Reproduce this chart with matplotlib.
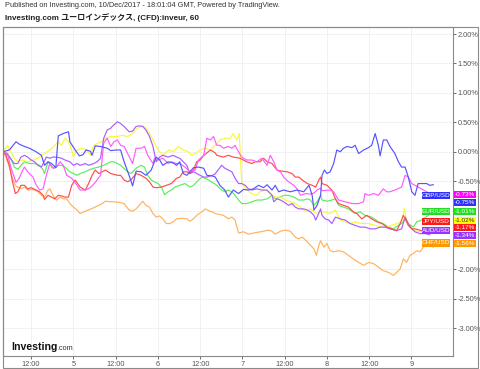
import matplotlib
matplotlib.use('Agg')
import matplotlib.pyplot as plt
from matplotlib import transforms
from matplotlib.patches import Rectangle

plt.rcParams['font.family'] = ['Liberation Sans', 'Noto Sans CJK JP', 'DejaVu Sans']

# ---------------------------------------------------------------------
# data: (hours since 4 Dec 00:00, change in %)
# ---------------------------------------------------------------------
gbp = [(4.0, 0.00), (5.8, 0.03), (7.7, 0.17), (8.6, 0.13), (10.1, 0.09), (11.5, 0.06), (13.4, 0.00),
       (14.9, -0.06), (15.8, -0.23), (16.8, -0.17), (17.8, -0.20), (19.0, -0.27), (19.7, 0.27),
       (21.1, 0.31), (22.6, 0.34), (23.0, 0.17), (24.5, 0.03), (25.7, -0.07), (26.7, -0.05),
       (27.6, 0.03), (28.8, 0.01), (29.3, -0.06), (30.2, 0.10), (31.7, 0.09), (33.6, 0.06),
       (34.6, 0.02), (36.0, 0.03), (37.4, 0.03), (38.4, -0.17), (39.8, -0.40), (40.8, -0.58),
       (41.8, -0.33), (43.2, -0.34), (44.6, -0.40), (46.1, -0.31), (47.5, -0.09), (48.5, -0.14),
       (49.4, -0.23), (50.9, -0.17), (52.3, -0.19), (53.3, -0.23), (54.2, -0.17), (55.2, -0.37),
       (56.2, -0.40), (57.1, -0.34), (58.1, -0.27), (59.5, -0.26), (61.0, -0.28), (61.9, -0.40),
       (63.4, -0.41), (64.3, -0.43), (65.6, -0.57), (67.0, -0.65), (68.0, -0.77), (69.4, -0.65),
       (70.9, -0.71), (72.3, -0.64), (73.7, -0.65), (75.1, -0.63), (76.6, -0.57), (78.0, -0.61),
       (79.0, -0.56), (80.4, -0.65), (81.3, -0.57), (82.3, -0.68), (83.7, -0.65), (85.6, -0.68),
       (87.5, -0.65), (89.4, -0.68), (90.9, -0.57), (91.8, -0.74), (92.3, -0.99), (93.2, -0.91),
       (94.2, -0.74), (94.6, -0.40), (95.3, -0.31), (96.0, -0.37), (96.9, -0.34), (97.9, -0.20),
       (98.8, 0.03), (99.8, 0.00), (100.7, 0.06), (101.7, 0.09), (103.1, 0.07), (104.0, 0.11),
       (105.0, -0.03), (106.4, 0.03), (107.8, 0.07), (108.7, 0.11), (109.7, 0.31), (110.6, 0.11),
       (111.1, -0.07), (112.0, 0.20), (113.0, 0.20), (113.9, 0.09), (115.3, -0.03), (116.3, -0.17),
       (117.2, -0.26), (118.2, -0.26), (119.1, -0.43), (120.1, -0.68), (121.0, -0.74),
       (121.9, -0.54), (122.9, -0.54), (124.3, -0.54), (125.2, -0.57), (126.2, -0.56)]

magenta = [(4.0, 0.00), (5.3, -0.03), (6.2, -0.26), (7.2, -0.43), (7.7, -0.52), (8.6, -0.45),
           (9.6, -0.31), (10.1, -0.26), (11.0, -0.34), (12.5, -0.43), (13.4, -0.56), (14.4, -0.65),
           (15.4, -0.63), (16.3, -0.40), (17.3, -0.20), (18.2, -0.28), (19.2, -0.26), (20.2, -0.17),
           (21.1, -0.23), (22.1, -0.40), (23.5, -0.45), (25.0, -0.57), (25.9, -0.65), (27.4, -0.65),
           (28.8, -0.61), (30.2, -0.52), (31.7, -0.40), (32.6, 0.15), (33.6, 0.23), (34.6, 0.09),
           (35.5, 0.17), (36.5, 0.20), (37.4, 0.11), (38.4, 0.09), (39.4, -0.03), (40.8, -0.20),
           (41.8, 0.06), (43.2, 0.06), (44.2, 0.09), (45.1, -0.06), (46.6, -0.20), (47.0, -0.11),
           (48.0, -0.14), (49.4, -0.11), (50.9, -0.20), (51.8, -0.17), (53.3, -0.20), (54.2, -0.20),
           (55.7, -0.26), (57.1, -0.34), (58.6, -0.31), (59.5, -0.14), (61.0, -0.06), (61.9, 0.23),
           (62.9, 0.20), (63.8, 0.26), (64.7, 0.11), (65.6, 0.11), (66.6, 0.06), (68.0, 0.09),
           (69.0, 0.06), (69.9, 0.11), (70.9, 0.00), (71.8, -0.09), (73.2, -0.14), (74.7, -0.14),
           (76.1, -0.17), (77.5, -0.11), (79.0, -0.23), (79.9, -0.06), (80.9, -0.17), (81.8, -0.31),
           (82.8, -0.34), (83.7, -0.43), (85.1, -0.51), (86.6, -0.57), (87.5, -0.63), (88.5, -0.74),
           (89.9, -0.71), (91.3, -0.72), (92.3, -0.70), (93.2, -0.65), (94.2, -0.62), (94.6, -0.66),
           (96.9, -0.65), (97.9, -0.68), (99.3, -0.82), (101.2, -0.85), (103.1, -0.88), (105.0, -0.88),
           (106.4, -0.85), (106.8, -0.71), (107.8, -0.74), (109.2, -0.71), (110.6, -0.74),
           (112.0, -0.63), (113.0, -0.68), (113.9, -0.68), (115.3, -0.65), (117.2, -0.60),
           (118.2, -0.40), (119.1, -0.43), (120.1, -0.54), (121.0, -0.57), (121.9, -0.60),
           (123.4, -0.65), (124.3, -0.68), (125.2, -0.70)]

jpy = [(4.0, 0.00), (4.8, -0.05), (5.8, -0.23), (6.7, -0.51), (7.5, -0.71), (8.2, -0.68), (9.1, -0.57),
       (10.1, -0.57), (11.0, -0.63), (12.0, -0.61), (13.4, -0.65), (14.4, -0.68), (15.4, -0.74),
       (15.8, -0.81), (16.8, -0.74), (17.8, -0.77), (18.7, -0.80), (19.7, -0.74), (20.6, -0.75),
       (21.6, -0.77), (22.6, -0.77), (23.5, -0.57), (24.5, -0.48), (25.9, -0.60), (27.4, -0.65),
       (28.3, -0.54), (29.3, -0.40), (30.2, -0.31), (31.2, -0.37), (32.2, -0.34), (33.1, -0.31),
       (34.6, -0.37), (36.5, -0.40), (37.4, -0.40), (38.4, -0.48), (39.4, -0.51), (40.3, -0.48),
       (41.8, -0.37), (43.2, -0.40), (44.6, -0.45), (45.6, -0.51), (46.6, -0.60), (47.5, -0.61),
       (49.0, -0.60), (50.4, -0.57), (51.8, -0.54), (53.3, -0.45), (54.2, -0.43), (55.2, -0.34),
       (56.2, -0.34), (57.1, -0.37), (58.1, -0.31), (59.0, -0.17), (60.0, -0.14), (61.0, -0.06),
       (61.9, -0.02), (62.9, 0.03), (64.3, -0.02), (64.7, -0.06), (66.6, -0.09), (68.0, -0.06),
       (69.4, -0.09), (71.3, -0.11), (72.3, -0.14), (73.2, -0.17), (74.7, -0.20), (75.6, -0.17),
       (77.0, -0.17), (78.0, -0.11), (79.0, -0.17), (80.4, -0.20), (81.8, -0.31), (83.2, -0.33),
       (84.7, -0.34), (86.1, -0.37), (87.0, -0.43), (88.0, -0.43), (89.0, -0.48), (90.4, -0.54),
       (91.8, -0.57), (92.8, -0.60), (93.7, -0.48), (94.2, -0.43), (94.6, -0.54), (96.0, -0.57),
       (97.4, -0.65), (98.4, -0.80), (99.3, -0.88), (100.7, -0.91), (102.1, -0.94), (103.5, -1.02),
       (104.5, -1.05), (105.9, -1.14), (107.3, -1.08), (108.7, -1.14), (110.2, -1.19),
       (111.6, -1.22), (113.0, -1.28), (114.4, -1.31), (115.8, -1.34), (116.8, -1.22),
       (117.7, -1.08), (119.1, -1.25), (120.1, -1.31), (121.0, -1.31), (122.9, -1.34),
       (124.3, -1.34), (125.2, -1.31)]

eur = [(4.0, 0.00), (5.3, -0.03), (6.2, -0.11), (7.2, -0.26), (8.2, -0.30), (9.1, -0.23), (10.1, -0.17),
       (11.5, -0.20), (13.0, -0.20), (14.4, -0.23), (15.4, -0.31), (15.8, -0.37), (16.8, -0.17),
       (17.8, -0.26), (18.7, -0.28), (19.7, -0.23), (20.6, -0.23), (21.6, -0.26), (23.0, -0.34),
       (24.0, -0.37), (25.0, -0.40), (25.9, -0.37), (27.4, -0.34), (28.3, -0.31), (29.8, -0.28),
       (31.2, -0.26), (32.6, -0.23), (33.6, -0.20), (34.6, -0.17), (35.5, -0.17), (37.4, -0.23),
       (39.4, -0.34), (40.3, -0.37), (41.8, -0.28), (43.2, -0.23), (44.2, -0.26), (45.1, -0.40),
       (46.1, -0.48), (47.0, -0.51), (48.0, -0.54), (49.0, -0.60), (49.9, -0.73), (50.9, -0.68),
       (51.8, -0.65), (52.8, -0.60), (54.2, -0.57), (55.7, -0.54), (57.1, -0.60), (58.1, -0.57),
       (59.5, -0.48), (60.5, -0.43), (61.4, -0.45), (62.4, -0.48), (63.4, -0.52), (64.3, -0.55),
       (64.7, -0.57), (66.1, -0.65), (67.0, -0.68), (68.0, -0.65), (69.0, -0.68), (69.9, -0.74),
       (70.9, -0.82), (71.8, -0.88), (73.2, -0.88), (74.7, -0.85), (76.1, -0.82), (77.5, -0.82),
       (79.0, -0.80), (80.4, -0.74), (81.3, -0.80), (82.8, -0.77), (83.7, -0.74), (85.1, -0.74),
       (86.6, -0.77), (88.0, -0.82), (89.4, -0.82), (90.4, -0.80), (91.3, -0.82), (92.3, -0.91),
       (93.2, -0.85), (94.2, -0.74), (94.6, -0.82), (96.0, -0.84), (97.4, -0.82), (98.4, -0.80),
       (99.3, -0.91), (100.7, -0.94), (102.1, -0.97), (104.0, -1.05), (105.4, -1.02),
       (106.8, -1.08), (108.7, -1.11), (110.6, -1.19), (112.0, -1.22), (113.5, -1.28),
       (114.9, -1.31), (116.3, -1.25), (117.2, -1.22), (118.2, -1.14), (119.1, -1.22),
       (120.5, -1.28), (121.5, -1.19), (122.9, -1.16), (124.8, -1.08), (126.2, -0.99)]

yellow = [(4.0, 0.00), (5.3, 0.11), (6.2, 0.00), (7.2, -0.11), (8.2, -0.17), (9.6, -0.14), (11.0, -0.17),
          (12.5, -0.14), (13.9, -0.11), (14.9, -0.06), (15.8, -0.03), (17.3, 0.03), (18.7, 0.11),
          (19.7, 0.17), (20.6, 0.11), (21.6, 0.23), (22.6, 0.17), (23.5, 0.03), (24.0, -0.09),
          (25.0, 0.03), (26.4, 0.06), (27.8, 0.03), (28.8, -0.06), (29.8, 0.11), (30.7, 0.14),
          (32.2, 0.18), (33.1, 0.23), (34.6, 0.26), (36.5, 0.26), (37.9, 0.28), (39.4, 0.26),
          (40.8, 0.31), (42.2, 0.40), (43.7, 0.44), (44.6, 0.40), (45.6, 0.31), (46.6, 0.20),
          (47.5, 0.09), (48.5, 0.00), (49.4, -0.06), (50.4, 0.00), (51.4, 0.03), (52.3, 0.00),
          (53.8, 0.09), (55.2, 0.03), (56.6, 0.00), (57.6, -0.06), (58.6, -0.03), (60.0, 0.03),
          (61.4, 0.06), (62.9, 0.03), (64.2, 0.11), (64.7, 0.14), (65.6, 0.20), (67.0, 0.23),
          (68.5, 0.23), (69.4, 0.31), (70.4, 0.20), (71.1, 0.31), (71.8, -0.54), (72.3, -0.57),
          (73.2, -0.65), (74.7, -0.71), (76.1, -0.74), (77.0, -0.68), (78.5, -0.65), (79.9, -0.71),
          (81.3, -0.77), (82.8, -0.77), (84.2, -0.82), (85.6, -0.85), (87.0, -0.88), (88.5, -0.94),
          (89.9, -1.02), (91.3, -0.97), (92.3, -1.02), (93.2, -1.05), (94.2, -1.02), (95.5, -1.02),
          (96.9, -1.05), (98.4, -0.99), (99.8, -1.16), (101.2, -1.19), (102.6, -1.22),
          (104.0, -1.19), (105.9, -1.22), (107.8, -1.22), (109.7, -1.25), (111.6, -1.28),
          (113.0, -1.28), (114.4, -1.25), (115.8, -1.22), (117.2, -1.19), (118.0, -0.97),
          (118.6, -1.16), (119.6, -1.28), (121.0, -1.34), (122.9, -1.36), (124.3, -1.34),
          (125.2, -1.31)]

aud = [(4.0, 0.00), (4.8, -0.03), (5.8, -0.09), (7.2, -0.20), (8.2, -0.20), (9.1, -0.09), (10.1, -0.06),
       (11.0, -0.09), (12.0, -0.14), (13.0, -0.17), (13.9, -0.23), (14.9, -0.26), (16.3, -0.09),
       (17.3, -0.11), (18.2, -0.09), (19.2, -0.09), (20.6, -0.11), (21.6, -0.14), (23.0, -0.17),
       (24.0, -0.23), (25.0, -0.20), (25.9, -0.23), (27.4, -0.20), (28.3, -0.23), (29.8, -0.20),
       (30.7, -0.17), (31.7, -0.11), (32.6, 0.23), (33.6, 0.37), (34.6, 0.40), (35.0, 0.43),
       (36.5, 0.51), (37.4, 0.48), (38.4, 0.43), (39.8, 0.34), (40.8, 0.35), (41.8, 0.43),
       (42.7, 0.44), (43.7, 0.43), (44.6, 0.37), (45.6, 0.26), (46.6, 0.09), (47.5, -0.17),
       (48.5, -0.09), (49.4, -0.06), (50.9, -0.09), (52.3, -0.06), (53.3, -0.09), (54.2, -0.11),
       (55.2, -0.17), (56.2, -0.23), (57.1, -0.37), (58.1, -0.34), (59.0, -0.37), (60.0, -0.40),
       (61.0, -0.43), (61.9, -0.43), (63.4, -0.40), (64.2, -0.38), (64.7, -0.34), (66.1, -0.23),
       (67.0, -0.28), (68.0, -0.31), (69.0, -0.34), (69.9, -0.45), (70.9, -0.54), (71.8, -0.54),
       (72.8, -0.57), (73.7, -0.63), (74.7, -0.65), (76.1, -0.63), (77.5, -0.65), (79.0, -0.65),
       (80.4, -0.74), (80.9, -0.85), (81.8, -0.80), (82.8, -0.82), (83.7, -0.85), (85.1, -0.91),
       (86.1, -0.88), (87.0, -0.94), (88.0, -0.97), (89.4, -0.97), (90.4, -0.99), (91.3, -1.02),
       (92.3, -1.08), (92.8, -1.16), (93.2, -1.11), (94.2, -0.97), (94.6, -1.08), (95.5, -1.14),
       (96.5, -1.16), (97.4, -1.22), (98.4, -1.11), (99.8, -1.14), (101.2, -1.16), (102.6, -1.22),
       (104.0, -1.25), (105.4, -1.28), (106.8, -1.28), (108.3, -1.31), (109.7, -1.31),
       (111.1, -1.28), (112.5, -1.28), (113.9, -1.31), (115.8, -1.34), (117.2, -1.31),
       (118.2, -1.11), (119.1, -1.22), (120.1, -1.31), (121.0, -1.36), (122.4, -1.39),
       (123.8, -1.39), (125.2, -1.41)]

chf = [(4.0, 0.00), (4.8, -0.09), (5.8, -0.26), (6.7, -0.45), (7.5, -0.57), (8.2, -0.60), (9.1, -0.63),
       (10.1, -0.60), (11.0, -0.65), (12.0, -0.64), (13.0, -0.65), (13.9, -0.68), (14.9, -0.74),
       (15.8, -0.77), (16.8, -0.65), (17.3, -0.63), (18.2, -0.74), (19.2, -0.82), (20.2, -0.77),
       (21.1, -0.80), (22.1, -0.80), (23.0, -0.88), (24.0, -0.94), (25.0, -0.99), (25.9, -1.05),
       (26.9, -1.02), (28.3, -0.99), (29.8, -0.95), (31.2, -0.91), (32.2, -0.88), (33.1, -0.84),
       (34.6, -0.85), (35.5, -0.85), (37.0, -0.86), (38.4, -0.88), (39.8, -0.99), (40.8, -1.01),
       (41.8, -0.97), (42.7, -0.91), (43.7, -0.84), (44.6, -0.91), (45.6, -0.94), (46.6, -1.05),
       (47.5, -1.11), (48.5, -1.09), (49.4, -1.14), (50.4, -1.22), (51.4, -1.22), (52.3, -1.19),
       (53.3, -1.14), (54.7, -1.13), (56.2, -1.14), (57.1, -1.18), (58.1, -1.14), (59.0, -1.08),
       (60.5, -1.02), (61.4, -0.97), (62.4, -1.00), (63.4, -1.02), (64.3, -1.05), (66.6, -1.08),
       (68.0, -1.14), (69.0, -1.11), (69.9, -1.16), (70.9, -1.38), (72.3, -1.36), (73.7, -1.40),
       (76.1, -1.37), (78.0, -1.35), (79.4, -1.33), (80.4, -1.35), (81.3, -1.40), (82.8, -1.35),
       (84.2, -1.33), (85.6, -1.35), (87.0, -1.45), (88.0, -1.48), (89.0, -1.45), (90.4, -1.53),
       (91.3, -1.59), (92.3, -1.65), (93.0, -1.76), (93.7, -1.59), (94.2, -1.51), (95.1, -1.62),
       (96.0, -1.56), (96.9, -1.68), (97.9, -1.70), (99.3, -1.68), (100.7, -1.70), (102.1, -1.76),
       (103.5, -1.82), (105.0, -1.88), (106.4, -1.93), (107.8, -1.88), (109.2, -1.90),
       (110.6, -1.96), (112.0, -2.02), (113.5, -2.05), (114.9, -2.10), (115.8, -2.05),
       (116.8, -1.99), (117.7, -1.82), (118.6, -1.88), (119.6, -1.76), (120.5, -1.73),
       (121.5, -1.68), (122.4, -1.70), (123.4, -1.62), (124.3, -1.59), (125.2, -1.59),
       (126.2, -1.62)]

# tag boxes on the right
name_tags = ['GBP/USD', 'EUR/USD', 'JPY/USD', 'AUD/USD', 'CHF/USD']
value_tags = ['-0.73%', '-0.75%', '-1.01%', '-1.02%', '-1.17%', '-1.34%', '-1.56%']

x_ticks = [12, 24, 36, 48, 60, 72, 84, 96, 108, 120]
x_labels = ['12:00', '5', '12:00', '6', '12:00', '7', '12:00', '8', '12:00', '9']
y_ticks = [2.0, 1.5, 1.0, 0.5, 0.0, -0.5, -1.0, -1.5, -2.0, -2.5, -3.0]
# scale labels hidden under the value tags
y_hidden = [-1.0, -1.5]

# styles
lines = [
    (chf, '#ffb25c'),
    (eur, '#5ced5c'),
    (yellow, '#f8f83a'),
    (aud, '#ad5cff'),
    (jpy, '#ff4d4d'),
    (magenta, '#ff5cff'),
    (gbp, '#5555ff'),
]
name_y = [-0.74, -1.01, -1.18, -1.34, -1.55]
name_col = ['#2f2fff', '#22dd22', '#ff1a1a', '#9933ff', '#ff9900']
value_y = [-0.73, -0.865, -1.01, -1.17, -1.28, -1.425, -1.565]
value_col = ['#ff00ff', '#2f2fff', '#22dd22', '#ffff00', '#ff1a1a', '#9933ff', '#ff9900']
value_txt = ['white', 'white', 'white', '#333333', 'white', 'white', 'white']

W, H = 480, 369
fig = plt.figure(figsize=(W / 100, H / 100), dpi=100)
ax = fig.add_axes([3 / W, 13 / H, 450 / W, 329 / H])

for pts, col in lines:
    xs = [p[0] for p in pts]
    ys = [p[1] for p in pts]
    ax.plot(xs, ys, color=col, lw=0.85, solid_joinstyle='round')

ax.set_xlim(4.0, 131.8)
ax.set_ylim(-3.47, 2.12)
ax.set_xticks(x_ticks)
ax.set_xticklabels(x_labels)
ax.yaxis.tick_right()
ax.set_yticks(y_ticks)
ax.set_yticklabels(['' if t in y_hidden else '%.2f%%' % t for t in y_ticks])
ax.tick_params(labelsize=5.3, colors='#555555', length=2, width=0.6, pad=1.5)
ax.grid(True, color='#efefef', lw=0.6)
ax.set_axisbelow(True)
for s in ax.spines.values():
    s.set_color('#8a8a8a')
    s.set_linewidth(0.8)

# outer frame round plot + price scale
fig.add_artist(Rectangle((3 / W, 1 / H), 475 / W, 341 / H, transform=fig.transFigure,
                         fill=False, edgecolor='#8a8a8a', lw=0.8))

# header
fig.text(5 / W, 1 - 5.5 / H, 'Published on Investing.com, 10/Dec/2017 - 18:01:04 GMT, Powered by TradingView.',
         fontsize=5.3, color='#333333', va='center')
fig.text(5 / W, 1 - 18 / H, 'Investing.com ユーロインデックス, (CFD):inveur, 60',
         fontsize=5.8, weight='bold', color='#222222', va='center')

# logo
fig.text(11 / W, 1 - 350 / H, 'Investing', fontsize=7.6, weight='bold', color='#111111', va='baseline')
fig.text(57.5 / W, 1 - 350 / H, '.com', fontsize=5.2, color='#333333', va='baseline')

# tag boxes
bt = transforms.blended_transform_factory(fig.transFigure, ax.transData)
bh = 7 / 58.8
for name, y, c in zip(name_tags, name_y, name_col):
    fig.add_artist(Rectangle((421.5 / W, y - bh / 2), 28.5 / W, bh, transform=bt,
                             facecolor=c, edgecolor='none', zorder=5))
    fig.text(435.8 / W, y, name, transform=bt, fontsize=4.6, color='white',
             ha='center', va='center', zorder=6)
for val, y, c, tc in zip(value_tags, value_y, value_col, value_txt):
    fig.add_artist(Rectangle((453.5 / W, y - bh / 2), 22.5 / W, bh, transform=bt,
                             facecolor=c, edgecolor='none', zorder=5))
    fig.text(464.8 / W, y, val, transform=bt, fontsize=4.6, color=tc,
             ha='center', va='center', zorder=6)

fig.savefig('out.png', dpi=100)
